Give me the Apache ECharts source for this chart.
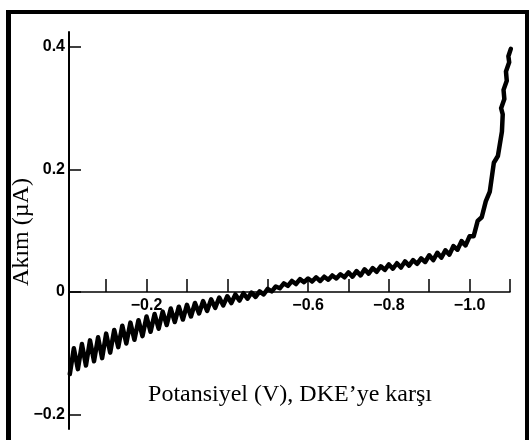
<!DOCTYPE html>
<html><head><meta charset="utf-8">
<script src="https://cdn.jsdelivr.net/npm/echarts@6/dist/echarts.min.js"></script>
<style>html,body{margin:0;padding:0;background:#fff}#c{width:529px;height:440px}</style>
</head><body><div id="c"></div>
<script>
// Potential (V vs SCE) and current (µA)
const potential = [
 -0.01,-0.02,-0.03,-0.04,-0.05,-0.06,-0.07,-0.08,-0.09,-0.10,
 -0.11,-0.12,-0.13,-0.14,-0.15,-0.16,-0.17,-0.18,-0.19,-0.20,
 -0.21,-0.22,-0.23,-0.24,-0.25,-0.26,-0.27,-0.28,-0.29,-0.30,
 -0.31,-0.32,-0.33,-0.34,-0.35,-0.36,-0.37,-0.38,-0.39,-0.40,
 -0.41,-0.42,-0.43,-0.44,-0.45,-0.46,-0.47,-0.48,-0.49,-0.50,
 -0.51,-0.52,-0.53,-0.54,-0.55,-0.56,-0.57,-0.58,-0.59,-0.60,
 -0.61,-0.62,-0.63,-0.64,-0.65,-0.66,-0.67,-0.68,-0.69,-0.70,
 -0.71,-0.72,-0.73,-0.74,-0.75,-0.76,-0.77,-0.78,-0.79,-0.80,
 -0.81,-0.82,-0.83,-0.84,-0.85,-0.86,-0.87,-0.88,-0.89,-0.90,
 -0.91,-0.92,-0.93,-0.94,-0.95,-0.96,-0.97,-0.98,-0.99,-1.00,
 -1.01,-1.02,-1.03,-1.04,-1.05,-1.06,-1.07,-1.08,
 -1.082,-1.078,-1.086,-1.084,-1.092,-1.090,-1.098,-1.096,-1.102
];
const current = [
 -0.134,-0.092,-0.126,-0.085,-0.120,-0.079,-0.113,-0.074,-0.108,-0.068,
 -0.099,-0.062,-0.090,-0.055,-0.084,-0.050,-0.078,-0.046,-0.072,-0.040,
 -0.065,-0.036,-0.060,-0.032,-0.054,-0.027,-0.049,-0.024,-0.045,-0.021,
 -0.040,-0.018,-0.035,-0.015,-0.031,-0.012,-0.026,-0.009,-0.022,-0.007,
 -0.018,-0.004,-0.014,-0.002,-0.011,-0.001,-0.008,0.001,-0.004,0.005,
 0.001,0.009,0.006,0.014,0.010,0.018,0.013,0.021,0.016,0.022,
 0.017,0.024,0.018,0.025,0.020,0.027,0.022,0.029,0.024,0.032,
 0.025,0.034,0.027,0.037,0.030,0.039,0.033,0.042,0.036,0.045,
 0.038,0.047,0.040,0.050,0.043,0.052,0.046,0.055,0.049,0.060,
 0.052,0.064,0.056,0.068,0.061,0.075,0.069,0.083,0.076,0.091,
 0.091,0.116,0.122,0.148,0.164,0.211,0.222,0.262,
 0.290,0.300,0.315,0.330,0.345,0.360,0.375,0.385,0.397
];
const xTickValues = [-0.1,-0.2,-0.3,-0.4,-0.5,-0.6,-0.7,-0.8,-0.9,-1.0,-1.1];
const xLabelValues = [-0.2,-0.6,-0.8,-1.0];
const yTickValues = [-0.2,0,0.2,0.4];
const xTitle = 'Potansiyel (V), DKE’ye karşı';
const yTitle = 'Akım (µA)';

const fmt = v => {
  if (Math.abs(v) < 1e-9) return '0';
  return (v < 0 ? '−' : '') + Math.abs(v).toFixed(1);
};

const chart = echarts.init(document.getElementById('c'), null, {renderer: 'canvas'});
chart.setOption({
  animation: false,
  backgroundColor: '#fff',
  grid: {left: 69, top: 32, width: 441, height: 397, containLabel: false},
  xAxis: {
    type: 'value', inverse: true, min: -1.1, max: -0.008,
    position: 'bottom', offset: -137,
    splitLine: {show: false},
    axisLine: {onZero: false, lineStyle: {color: '#000', width: 1.5}},
    axisTick: {inside: true, length: 13, customValues: xTickValues, lineStyle: {color: '#000', width: 1.5}},
    axisLabel: {customValues: xLabelValues, formatter: fmt, margin: 6, color: '#000',
      fontFamily: 'Liberation Sans', fontWeight: 'bold', fontSize: 16}
  },
  yAxis: {
    type: 'value', min: -0.2237, max: 0.4245,
    splitLine: {show: false},
    axisLine: {onZero: false, lineStyle: {color: '#000', width: 2}},
    axisTick: {inside: true, length: 12, customValues: yTickValues, lineStyle: {color: '#000', width: 1.5}},
    axisLabel: {customValues: yTickValues, formatter: fmt, margin: 4, color: '#000',
      fontFamily: 'Liberation Sans', fontWeight: 'bold', fontSize: 16}
  },
  series: [{
    type: 'line', showSymbol: false, clip: false,
    data: potential.map((p, i) => [p, current[i]]),
    lineStyle: {color: '#000', width: 4.5, join: 'round', cap: 'round'}
  }],
  graphic: [
    {type: 'rect', shape: {x: 6, y: 10, width: 5, height: 430}, style: {fill: '#000'}, z: 100},
    {type: 'rect', shape: {x: 6, y: 10, width: 523, height: 4}, style: {fill: '#000'}, z: 100},
    {type: 'rect', shape: {x: 525, y: 10, width: 4, height: 430}, style: {fill: '#000'}, z: 100},
    {type: 'text', x: 290, y: 395, style: {text: xTitle, fill: '#000', font: '24px "Liberation Serif"',
      textAlign: 'center', textVerticalAlign: 'middle'}, z: 50},
    {type: 'text', x: 22, y: 232, rotation: Math.PI / 2, style: {text: yTitle, fill: '#000',
      font: '24px "Liberation Serif"', textAlign: 'center', textVerticalAlign: 'middle'}, z: 50}
  ]
});
</script></body></html>
